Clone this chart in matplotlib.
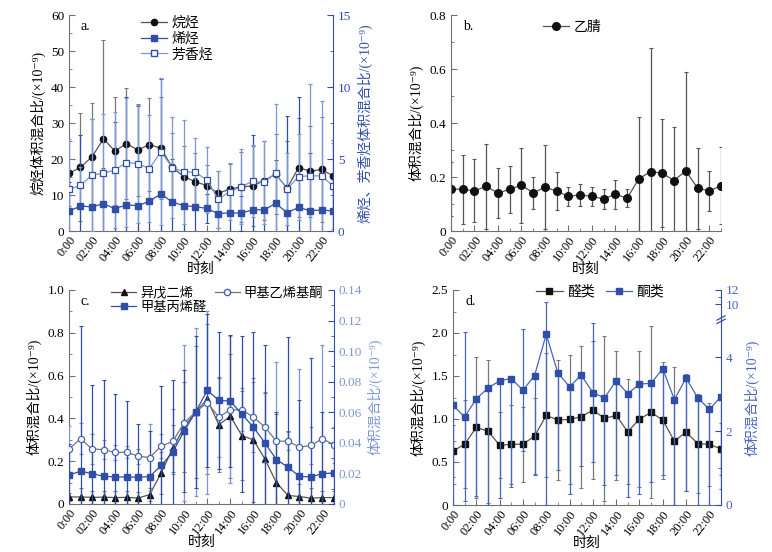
import numpy as np
import matplotlib
matplotlib.use("Agg")
import matplotlib.pyplot as plt
from matplotlib.ticker import FixedLocator, FixedFormatter, MultipleLocator
from matplotlib.lines import Line2D

plt.rcParams['font.family'] = ['Liberation Serif', 'Noto Sans CJK SC', 'DejaVu Sans']
plt.rcParams['axes.unicode_minus'] = False

hours = list(range(24))
xtick_pos = list(range(0, 24, 2))
xtick_labels = ['0:00', '02:00', '04:00', '06:00', '08:00', '10:00',
                '12:00', '14:00', '16:00', '18:00', '20:00', '22:00']

# ---- panel a ----
alkane = [16.0, 17.7, 20.6, 25.6, 22.2, 24.3, 22.5, 24.0, 23.0, 17.7, 15.1, 13.7,
          12.6, 10.5, 11.6, 12.3, 12.5, 14.0, 15.8, 11.9, 17.6, 16.6, 17.1, 15.3]
alkane_sd = [9.0, 15.0, 14.9, 27.4, 15.1, 15.5, 12.8, 12.9, 14.1, 9.4, 8.6, 7.9,
             5.7, 6.2, 7.0, 9.7, 11.1, 10.9, 11.1, 13.0, 13.7, 12.6, 14.7, 10.0]
olefin = [1.37, 1.74, 1.67, 1.90, 1.55, 1.81, 1.76, 2.06, 2.57, 2.01, 1.76, 1.69,
          1.57, 1.20, 1.27, 1.23, 1.48, 1.46, 1.92, 1.27, 1.64, 1.41, 1.46, 1.39]
olefin_sd = [2.0, 4.9, 6.1, 2.5, 6.0, 7.5, 6.9, 4.0, 8.0, 3.0, 2.5, 2.0,
             1.0, 1.0, 1.6, 1.2, 5.2, 2.0, 3.0, 6.7, 7.7, 4.0, 2.5, 1.5]
aromatic = [2.89, 3.17, 3.89, 4.00, 4.24, 4.75, 4.68, 4.33, 5.51, 4.40, 4.12, 4.07,
            3.56, 2.20, 2.73, 3.08, 3.45, 3.38, 4.00, 2.92, 3.77, 3.84, 3.82, 3.13]
aromatic_sd = [3.5, 1.3, 3.9, 4.1, 4.0, 4.5, 4.1, 3.7, 5.1, 3.5, 3.6, 2.4,
               2.3, 2.0, 2.0, 2.6, 2.5, 2.9, 4.8, 2.5, 3.0, 6.4, 5.2, 3.0]

# ---- panel b ----
acetonitrile = [0.156, 0.154, 0.149, 0.165, 0.141, 0.154, 0.170, 0.141, 0.162, 0.148, 0.128, 0.134,
                0.128, 0.119, 0.136, 0.122, 0.193, 0.220, 0.214, 0.187, 0.223, 0.159, 0.148, 0.168]
acetonitrile_sd = [0.10, 0.127, 0.116, 0.156, 0.093, 0.086, 0.139, 0.060, 0.155, 0.071, 0.035, 0.040,
                   0.035, 0.037, 0.054, 0.034, 0.230, 0.456, 0.200, 0.199, 0.365, 0.150, 0.074, 0.142]

# ---- panel c ----
isoprene = [0.033, 0.033, 0.031, 0.032, 0.030, 0.031, 0.028, 0.044, 0.145, 0.26, 0.36, 0.43,
            0.49, 0.37, 0.41, 0.32, 0.30, 0.21, 0.10, 0.04, 0.035, 0.027, 0.030, 0.030]
isoprene_sd = [0.02, 0.04, 0.03, 0.03, 0.03, 0.03, 0.03, 0.03, 0.10, 0.11, 0.21, 0.31,
               0.35, 0.22, 0.29, 0.21, 0.29, 0.31, 0.32, 0.30, 0.06, 0.05, 0.03, 0.03]
mvk = [0.036, 0.0427, 0.036, 0.0356, 0.0337, 0.0339, 0.0313, 0.0304, 0.0378, 0.0409, 0.0532, 0.0602,
       0.0663, 0.0569, 0.0616, 0.0616, 0.0569, 0.0503, 0.0411, 0.0411, 0.0372, 0.0383, 0.0427, 0.0387]
mvk_sd = [0.015, 0.010, 0.010, 0.006, 0.005, 0.004, 0.005, 0.022, 0.008, 0.021, 0.051, 0.055,
          0.060, 0.026, 0.048, 0.014, 0.023, 0.023, 0.052, 0.006, 0.051, 0.012, 0.061, 0.012]
macr = [0.019, 0.0214, 0.0199, 0.0181, 0.0177, 0.0177, 0.0175, 0.0179, 0.0252, 0.0339, 0.0479, 0.0602,
        0.0744, 0.0678, 0.0673, 0.0588, 0.0503, 0.040, 0.0291, 0.0241, 0.0181, 0.0177, 0.0199, 0.0203]
macr_sd = [0.020, 0.095, 0.058, 0.063, 0.054, 0.050, 0.035, 0.030, 0.052, 0.047, 0.040, 0.050,
           0.050, 0.045, 0.043, 0.051, 0.062, 0.064, 0.031, 0.085, 0.050, 0.078, 0.040, 0.020]

# ---- panel d ----
aldehyde = [0.626, 0.708, 0.902, 0.859, 0.696, 0.704, 0.708, 0.80, 1.042, 0.988, 0.995, 1.026,
            1.104, 1.007, 1.042, 0.851, 0.999, 1.077, 0.988, 0.743, 0.848, 0.715, 0.704, 0.653]
aldehyde_sd = [0.30, 0.51, 0.82, 0.83, 0.385, 0.455, 0.435, 0.445, 0.72, 0.70, 0.755, 0.825,
               0.80, 0.96, 0.75, 0.61, 0.79, 1.00, 0.68, 0.86, 0.68, 0.575, 0.485, 0.30]
ketone = [2.70, 2.39, 2.88, 3.17, 3.37, 3.43, 3.11, 3.51, 4.63, 3.58, 3.21, 3.52,
          3.05, 2.90, 3.37, 3.02, 3.28, 3.30, 3.70, 2.86, 3.44, 2.91, 2.59, 2.94]
ketone_sd = [2.8, 2.29, 2.64, 3.3, 3.17, 2.93, 1.65, 2.69, 5.67, 2.63, 2.91, 2.45,
             1.88, 2.37, 2.55, 2.79, 2.99, 2.67, 2.88, 3.2, 3.05, 3.1, 2.8, 2.5]

GRAY = '#7a7a7a'
BLACK = '#111111'
LINEGRAY = '#555555'
DBLUE = '#2f4ea8'
LBLUE = '#7b97d6'
MBLUE = '#4565bf'
SPINE = '#707070'
UNIT = '/(×10⁻⁹)'

fig = plt.figure(figsize=(7.72, 5.52), dpi=100)
W, H = 772, 552


def make_ax(l, r, t, b):
    return fig.add_axes([l / W, 1 - b / H, (r - l) / W, (b - t) / H])


def style_x(ax):
    ax.set_xlim(0, 23)
    ax.xaxis.set_major_locator(FixedLocator(xtick_pos))
    ax.xaxis.set_major_formatter(FixedFormatter(xtick_labels))
    ax.xaxis.set_minor_locator(MultipleLocator(1))
    ax.tick_params(axis='x', labelsize=9, pad=2)
    for lab in ax.get_xticklabels():
        lab.set_rotation(52)
        lab.set_ha('right')
        lab.set_rotation_mode('anchor')
    ax.set_xlabel('时刻', fontsize=10, labelpad=-1)


def style_left(ax):
    ax.spines['top'].set_visible(False)
    ax.spines['right'].set_visible(False)
    ax.spines['left'].set_color(SPINE)
    ax.spines['bottom'].set_color(SPINE)
    ax.tick_params(which='both', direction='in', colors=SPINE, labelcolor='black', labelsize=9.5)
    ax.tick_params(which='major', length=4)
    ax.tick_params(which='minor', length=2)


def style_right(ax, color, labelcolor):
    for s in ['top', 'left', 'bottom']:
        ax.spines[s].set_visible(False)
    ax.spines['right'].set_color(color)
    ax.tick_params(axis='y', which='both', direction='in', colors=color, labelcolor=labelcolor, labelsize=9.5)
    ax.tick_params(axis='y', which='major', length=4)
    ax.tick_params(axis='y', which='minor', length=2)


eb_kw = dict(elinewidth=0.9, capsize=1.6, capthick=0.8)
leg_kw = dict(frameon=False, fontsize=10, handlelength=1.9, handletextpad=0.3,
              borderpad=0.2, borderaxespad=0.2)

# ================= panel a =================
ax = make_ax(69, 333, 15, 231)
style_left(ax)
ax.errorbar(hours, alkane, yerr=alkane_sd, color=LINEGRAY, ecolor=GRAY, lw=0.9,
            marker='o', ms=4.5, mfc=BLACK, mec=BLACK, **eb_kw)
ax.set_ylim(0, 60)
ax.yaxis.set_major_locator(MultipleLocator(10))
ax.yaxis.set_minor_locator(MultipleLocator(5))
ax.set_ylabel('烷烃体积混合比' + UNIT, fontsize=10, labelpad=4)
style_x(ax)
ax.text(0.045, 0.975, 'a.', transform=ax.transAxes, fontsize=10, va='top')
ax2 = ax.twinx()
style_right(ax2, DBLUE, DBLUE)
ax2.errorbar(hours, olefin, yerr=olefin_sd, color=DBLUE, ecolor=DBLUE, lw=0.9,
             marker='s', ms=4.5, mfc=DBLUE, mec=DBLUE, **eb_kw)
ax2.errorbar(hours, aromatic, yerr=aromatic_sd, color=LBLUE, ecolor=LBLUE, lw=0.9,
             marker='s', ms=4.5, mfc='white', mec=DBLUE, mew=0.9, **eb_kw)
ax2.set_ylim(0, 15)
ax2.yaxis.set_major_locator(MultipleLocator(5))
ax2.yaxis.set_minor_locator(MultipleLocator(2.5))
ax2.set_ylabel('烯烃、芳香烃体积混合比' + UNIT, fontsize=10, color=DBLUE, labelpad=4)
hA = [Line2D([], [], color=LINEGRAY, lw=0.9, marker='o', ms=4.5, mfc=BLACK, mec=BLACK),
      Line2D([], [], color=DBLUE, lw=0.9, marker='s', ms=4.5, mfc=DBLUE, mec=DBLUE),
      Line2D([], [], color=LBLUE, lw=0.9, marker='s', ms=4.5, mfc='white', mec=DBLUE)]
ax2.legend(hA, ['烷烃', '烯烃', '芳香烃'], loc='upper left', bbox_to_anchor=(0.25, 1.02),
           labelspacing=0.15, **leg_kw)

# ================= panel b =================
ax = make_ax(451, 721, 15, 231)
style_left(ax)
ax.errorbar(hours, acetonitrile, yerr=acetonitrile_sd, color=LINEGRAY, ecolor=LINEGRAY, lw=0.9,
            marker='o', ms=5.5, mfc=BLACK, mec=BLACK, **eb_kw)
ax.set_ylim(0, 0.8)
ax.yaxis.set_major_locator(FixedLocator([0, 0.2, 0.4, 0.6, 0.8]))
ax.yaxis.set_major_formatter(FixedFormatter(['0', '0.2', '0.4', '0.6', '0.8']))
ax.yaxis.set_minor_locator(MultipleLocator(0.1))
ax.set_ylabel('体积混合比' + UNIT, fontsize=10, labelpad=4)
style_x(ax)
ax.text(0.045, 0.975, 'b.', transform=ax.transAxes, fontsize=10, va='top')
hB = [Line2D([], [], color=LINEGRAY, lw=0.9, marker='o', ms=5.5, mfc=BLACK, mec=BLACK)]
ax.legend(hB, ['乙腈'], loc='upper left', bbox_to_anchor=(0.32, 1.0), **leg_kw)

# ================= panel c =================
ax = make_ax(69, 334, 290, 504)
style_left(ax)
ax.errorbar(hours, isoprene, yerr=isoprene_sd, color=LINEGRAY, ecolor=GRAY, lw=0.9,
            marker='^', ms=4.5, mfc=BLACK, mec=BLACK, **eb_kw)
ax.set_ylim(0, 1.0)
ax.yaxis.set_major_locator(FixedLocator([0, 0.2, 0.4, 0.6, 0.8, 1.0]))
ax.yaxis.set_major_formatter(FixedFormatter(['0', '0.2', '0.4', '0.6', '0.8', '1.0']))
ax.yaxis.set_minor_locator(MultipleLocator(0.1))
ax.set_ylabel('体积混合比' + UNIT, fontsize=10, labelpad=4)
style_x(ax)
ax.text(0.045, 0.975, 'c.', transform=ax.transAxes, fontsize=10, va='top')
ax2 = ax.twinx()
style_right(ax2, DBLUE, LBLUE)
ax2.errorbar(hours, mvk, yerr=mvk_sd, color='#777777', ecolor=LBLUE, lw=0.9,
             marker='o', ms=4.5, mfc='white', mec=MBLUE, mew=0.9, **eb_kw)
ax2.errorbar(hours, macr, yerr=macr_sd, color=DBLUE, ecolor=DBLUE, lw=0.9,
             marker='s', ms=4.5, mfc=DBLUE, mec=DBLUE, **eb_kw)
ax2.set_ylim(0, 0.14)
rt = [0, 0.02, 0.04, 0.06, 0.08, 0.10, 0.12, 0.14]
ax2.yaxis.set_major_locator(FixedLocator(rt))
ax2.yaxis.set_major_formatter(FixedFormatter(['0', '0.02', '0.04', '0.06', '0.08', '0.10', '0.12', '0.14']))
ax2.yaxis.set_minor_locator(MultipleLocator(0.01))
ax2.set_ylabel('体积混合比' + UNIT, fontsize=10, color=LBLUE, labelpad=4)
hC = [Line2D([], [], color=LINEGRAY, lw=0.9, marker='^', ms=4.5, mfc=BLACK, mec=BLACK),
      Line2D([], [], color=DBLUE, lw=0.9, marker='s', ms=4.5, mfc=DBLUE, mec=DBLUE),
      Line2D([], [], color='#777777', lw=0.9, marker='o', ms=4.5, mfc='white', mec=MBLUE)]
ax2.legend(hC, ['异戊二烯', '甲基丙烯醛', '甲基乙烯基酮'], ncol=2, loc='upper left',
           bbox_to_anchor=(0.14, 1.04), labelspacing=0.15, columnspacing=0.6,
           **dict(leg_kw, fontsize=9.5))

# ================= panel d =================
ax = make_ax(453, 721, 290, 505)
style_left(ax)
ax.errorbar(hours, aldehyde, yerr=aldehyde_sd, color=LINEGRAY, ecolor=GRAY, lw=0.9,
            marker='s', ms=4.5, mfc=BLACK, mec=BLACK, **eb_kw)
ax.set_ylim(0, 2.5)
ax.yaxis.set_major_locator(FixedLocator([0, 0.5, 1.0, 1.5, 2.0, 2.5]))
ax.yaxis.set_major_formatter(FixedFormatter(['0', '0.5', '1.0', '1.5', '2.0', '2.5']))
ax.yaxis.set_minor_locator(MultipleLocator(0.25))
ax.set_ylabel('体积混合比' + UNIT, fontsize=10, labelpad=4)
style_x(ax)
ax.text(0.045, 0.975, 'd.', transform=ax.transAxes, fontsize=10, va='top')

B0, B1, GAPF, UPS = 5.0, 8.0, 0.05, 0.195


def fwd(v):
    v = np.asarray(v, dtype=float)
    return np.where(v <= B0, v,
                    np.where(v <= B1, B0 + (v - B0) * GAPF / (B1 - B0),
                             B0 + GAPF + (v - B1) * UPS))


def inv(f):
    f = np.asarray(f, dtype=float)
    return np.where(f <= B0, f,
                    np.where(f <= B0 + GAPF, B0 + (f - B0) * (B1 - B0) / GAPF,
                             B1 + (f - B0 - GAPF) / UPS))


ax2 = ax.twinx()
ax2.set_yscale('function', functions=(fwd, inv))
style_right(ax2, DBLUE, MBLUE)
k = np.array(ketone)
ksd = np.array(ketone_sd)
up = np.where((k + ksd > B0) & (k + ksd < B1), 0.0, ksd)
lo = np.minimum(ksd, k)
ax2.errorbar(hours, ketone, yerr=[lo, up], color=MBLUE, ecolor=MBLUE, lw=0.9,
             marker='s', ms=4.5, mfc=DBLUE, mec=DBLUE, **eb_kw)
ax2.set_ylim(0, 12)
ax2.yaxis.set_major_locator(FixedLocator([0, 2, 4, 10, 12]))
ax2.yaxis.set_major_formatter(FixedFormatter(['0', '2', '4', '10', '12']))
ax2.yaxis.set_minor_locator(FixedLocator([1, 3, 11]))
ax2.yaxis.set_minor_formatter(FixedFormatter(['', '', '']))
ax2.set_ylabel('体积混合比' + UNIT, fontsize=10, color=MBLUE, labelpad=4)
# break marks on right spine
ybrk = (B0 + GAPF / 2) / float(fwd(12))
for dy in (-0.008, 0.008):
    ax2.plot([0.985, 1.015], [ybrk + dy - 0.01, ybrk + dy + 0.01], transform=ax2.transAxes,
             color=DBLUE, lw=0.9, clip_on=False)
hD = [Line2D([], [], color=LINEGRAY, lw=0.9, marker='s', ms=4.5, mfc=BLACK, mec=BLACK),
      Line2D([], [], color=MBLUE, lw=0.9, marker='s', ms=4.5, mfc=DBLUE, mec=DBLUE)]
ax2.legend(hD, ['醛类', '酮类'], ncol=2, loc='upper left', bbox_to_anchor=(0.29, 1.05),
           columnspacing=0.8, **leg_kw)

fig.savefig('out.png', dpi=100)
